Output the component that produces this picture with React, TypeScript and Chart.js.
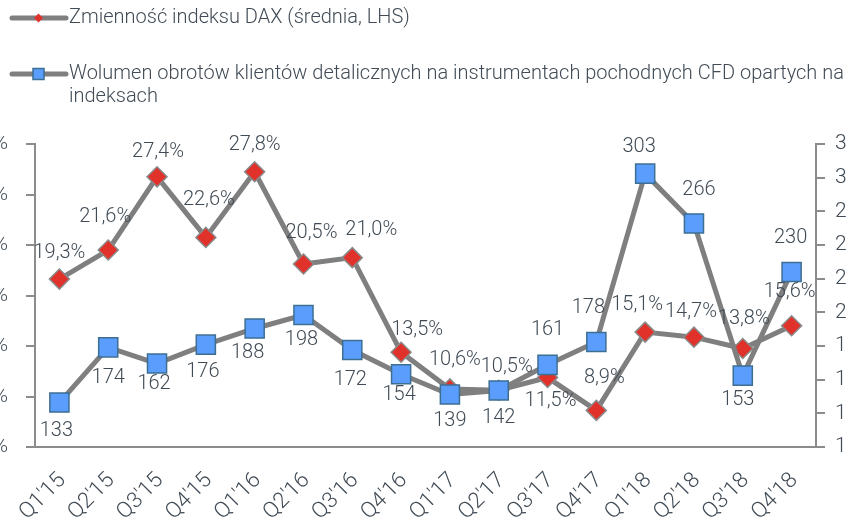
import React, { useEffect, useRef } from "react";
import { Chart, registerables } from "chart.js";

Chart.register(...registerables);

const categories = [
  "Q1'15", "Q2'15", "Q3'15", "Q4'15",
  "Q1'16", "Q2'16", "Q3'16", "Q4'16",
  "Q1'17", "Q2'17", "Q3'17", "Q4'17",
  "Q1'18", "Q2'18", "Q3'18", "Q4'18",
];

const daxVolatility = [19.3, 21.6, 27.4, 22.6, 27.8, 20.5, 21.0, 13.5, 10.6, 10.5, 11.5, 8.9, 15.1, 14.7, 13.8, 15.6];
const cfdVolume = [133, 174, 162, 176, 188, 198, 172, 154, 139, 142, 161, 178, 303, 266, 153, 230];

const leftAxisMin = 6;
const leftAxisMax = 30;
const leftAxisStep = 4;
const rightAxisMin = 100;
const rightAxisMax = 325;
const rightAxisStep = 25;

const daxLabel = "Zmienność indeksu DAX (średnia, LHS)";
const cfdLabel = "Wolumen obrotów klientów detalicznych na instrumentach pochodnych CFD opartych na indeksach";
const legendLines = [
  ["Zmienność indeksu DAX (średnia, LHS)"],
  ["Wolumen obrotów klientów detalicznych na instrumentach pochodnych CFD opartych na", "indeksach"],
];

// label placement offsets (dx, dy) relative to each point
const daxLabelOffsets = [
  [0, -26], [-3, -33], [1, -25], [3, -37], [0, -27], [8, -31], [19, -28], [16, -22],
  [5, -29], [8, -23], [3, 23], [8, -32], [-8, -27], [-3, -25], [1, -30], [-2, -34],
];
const cfdLabelOffsets = [
  [-3, 28], [0, 31], [-3, 20], [-3, 27], [-7, 25], [-2, 25], [-2, 30], [-2, 21],
  [0, 27], [0, 28], [0, -35], [-8, -34], [-6, -27], [5, -33], [-5, 24], [-1, -34],
];

const OX = 60; // canvas shifted left by this many px
const CW = 907; // canvas ends at page x 847
const CH = 600;
const FONT = "Roboto, 'Noto Sans', sans-serif";
const TEXT = "#404b55";
const AXIS = "#8c8c8c";
const LINE = "#7f7f7f";
const RED = "#e0322b";
const BLUE = "#5b9dfc";
const BLUE_BORDER = "#3d6f92";

const fmtPct = (v: number) => v.toFixed(1).replace(".", ",") + "%";

const legendPlugin = {
  id: "customLegend",
  afterDraw(chart: any) {
    const ctx = chart.ctx as CanvasRenderingContext2D;
    ctx.save();
    const items = [
      { y: 18, kind: "diamond", lines: legendLines[0] },
      { y: 74, kind: "square", lines: legendLines[1] },
    ];
    items.forEach((it) => {
      ctx.strokeStyle = LINE;
      ctx.lineWidth = 5;
      ctx.lineCap = "round";
      ctx.beginPath();
      ctx.moveTo(12 + OX, it.y);
      ctx.lineTo(66 + OX, it.y);
      ctx.stroke();
      const cx = 38.5 + OX;
      if (it.kind === "diamond") {
        ctx.fillStyle = RED;
        ctx.beginPath();
        ctx.moveTo(cx - 4.5, it.y);
        ctx.lineTo(cx, it.y - 4.5);
        ctx.lineTo(cx + 4.5, it.y);
        ctx.lineTo(cx, it.y + 4.5);
        ctx.closePath();
        ctx.fill();
      } else {
        ctx.fillStyle = BLUE;
        ctx.strokeStyle = BLUE_BORDER;
        ctx.lineWidth = 1.5;
        ctx.fillRect(cx - 5.5, it.y - 5.5, 11, 11);
        ctx.strokeRect(cx - 5.5, it.y - 5.5, 11, 11);
      }
      ctx.fillStyle = TEXT;
      ctx.font = `300 20px ${FONT}`;
      ctx.textAlign = "left";
      ctx.textBaseline = "middle";
      it.lines.forEach((t, i) => ctx.fillText(t, 69 + OX, it.y + i * 23));
    });
    ctx.restore();
  },
};

const xLabelPlugin = {
  id: "xLabels",
  afterDraw(chart: any) {
    const ctx = chart.ctx as CanvasRenderingContext2D;
    const xs = chart.scales.x;
    const yTop = chart.chartArea.bottom + 30;
    ctx.save();
    ctx.font = `300 22px ${FONT}`;
    ctx.fillStyle = TEXT;
    ctx.textAlign = "right";
    ctx.textBaseline = "middle";
    categories.forEach((c, i) => {
      const x = xs.getPixelForTick(i) + 3;
      ctx.save();
      ctx.translate(x, yTop);
      ctx.rotate(-Math.PI / 4);
      ctx.fillText(c, 0, 0);
      ctx.restore();
    });
    ctx.restore();
  },
};

const dataLabelPlugin = {
  id: "dataLabels",
  afterDatasetsDraw(chart: any) {
    const ctx = chart.ctx as CanvasRenderingContext2D;
    ctx.save();
    ctx.font = `300 20px ${FONT}`;
    ctx.fillStyle = TEXT;
    ctx.textAlign = "center";
    ctx.textBaseline = "middle";
    chart.data.datasets.forEach((ds: any, di: number) => {
      const meta = chart.getDatasetMeta(di);
      const offsets = di === 0 ? daxLabelOffsets : cfdLabelOffsets;
      meta.data.forEach((pt: any, i: number) => {
        const v = ds.data[i];
        const txt = di === 0 ? fmtPct(v) : String(v);
        const [dx, dy] = offsets[i];
        ctx.fillText(txt, pt.x + dx, pt.y + dy);
      });
    });
    ctx.restore();
  },
};

export default function App() {
  const ref = useRef<HTMLCanvasElement | null>(null);
  useEffect(() => {
    if (!ref.current) return;
    const chart = new Chart(ref.current, {
      type: "line",
      data: {
        labels: categories,
        datasets: [
          {
            label: daxLabel,
            data: daxVolatility,
            yAxisID: "y",
            order: 1,
            borderColor: LINE,
            borderWidth: 5,
            pointStyle: "rectRot",
            pointRadius: 10,
            pointBackgroundColor: RED,
            pointBorderColor: "#8a8a8a",
            pointBorderWidth: 1.5,
            tension: 0,
          },
          {
            label: cfdLabel,
            data: cfdVolume,
            yAxisID: "y1",
            order: 0,
            borderColor: LINE,
            borderWidth: 5,
            pointStyle: "rect",
            pointRadius: 13.5,
            pointBackgroundColor: BLUE,
            pointBorderColor: BLUE_BORDER,
            pointBorderWidth: 1.5,
            tension: 0,
          },
        ],
      },
      options: {
        responsive: false,
        animation: false,
        devicePixelRatio: 1,
        layout: { padding: { top: 144, left: 0, right: 0, bottom: 0 } },
        plugins: { legend: { display: false }, tooltip: { enabled: false } },
        scales: {
          x: {
            offset: true,
            grid: { display: false },
            border: { display: true, color: AXIS, width: 2 },
            ticks: { display: false },
            afterFit: (s: any) => { s.height = CH - 447; },
          },
          y: {
            position: "left",
            min: leftAxisMin,
            max: leftAxisMax,
            ticks: {
              stepSize: leftAxisStep,
              padding: 18,
              color: TEXT,
              font: { family: FONT, size: 21, weight: "300" as any },
              callback: (v: any) => v + "%",
            },
            grid: { drawOnChartArea: false, drawTicks: true, tickLength: 9, color: AXIS, lineWidth: 2 },
            border: { display: true, color: AXIS, width: 2 },
            afterFit: (s: any) => { s.width = 35 + OX; },
          },
          y1: {
            position: "right",
            min: rightAxisMin,
            max: rightAxisMax,
            ticks: {
              stepSize: rightAxisStep,
              padding: 10,
              color: TEXT,
              font: { family: FONT, size: 21, weight: "300" as any },
            },
            grid: { drawOnChartArea: false, drawTicks: true, tickLength: 9, color: AXIS, lineWidth: 2 },
            border: { display: true, color: AXIS, width: 2 },
            afterFit: (s: any) => { s.width = CW - (816 + OX); },
          },
        },
      },
      plugins: [legendPlugin, xLabelPlugin, dataLabelPlugin],
    });
    return () => chart.destroy();
  }, []);

  return (
    <div style={{ position: "fixed", left: 0, top: 0, width: 853, height: 520, overflow: "hidden", background: "#fff" }}>
      <canvas
        ref={ref}
        width={CW}
        height={CH}
        style={{ position: "absolute", left: -OX, top: 0, width: CW, height: CH }}
      />
    </div>
  );
}
